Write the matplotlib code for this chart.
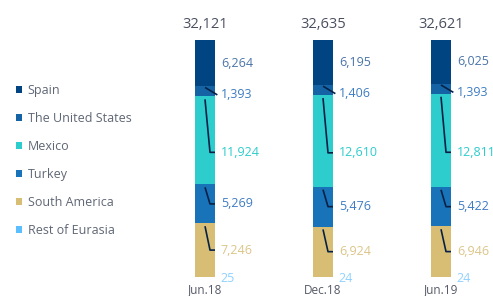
import matplotlib
matplotlib.use("Agg")
import matplotlib.pyplot as plt
from matplotlib.patches import Patch
import numpy as np

plt.rcParams['font.family'] = ['Open Sans', 'DejaVu Sans']

categories = ["Jun.18", "Dec.18", "Jun.19"]
series = ["Spain", "The United States", "Mexico", "Turkey", "South America", "Rest of Eurasia"]
spain = [6264, 6195, 6025]
united_states = [1393, 1406, 1393]
mexico = [11924, 12610, 12811]
turkey = [5269, 5476, 5422]
south_america = [7246, 6924, 6946]
rest_of_eurasia = [25, 24, 24]
totals = [32121, 32635, 32621]

colors = {"Spain": "#004481", "The United States": "#1464A5", "Mexico": "#2DCCCD",
          "Turkey": "#1973B8", "South America": "#D8BE75", "Rest of Eurasia": "#5BBEFF"}
label_colors = {"Spain": "#4a74a8", "The United States": "#3d7cc2", "Mexico": "#2DCCCD",
                "Turkey": "#3d7cc2", "South America": "#dcc589", "Rest of Eurasia": "#8fd2ff"}
leader_color = "#072146"

W, H = 493, 296
fig = plt.figure(figsize=(W / 100, H / 100), dpi=100)
x_left_px, x_right_px = 205 - 0.4 * 118, 441 + 0.44 * 118
ax = fig.add_axes([x_left_px / W, 1 - 277 / H, (x_right_px - x_left_px) / W, (277 - 40) / H])
ax.set_xlim(-0.4, 2.44)
ax.set_ylim(0, 100)
ax.axis('off')

data = {"Spain": spain, "The United States": united_states, "Mexico": mexico,
        "Turkey": turkey, "South America": south_america, "Rest of Eurasia": rest_of_eurasia}
stack_order = ["Rest of Eurasia", "South America", "Turkey", "Mexico", "The United States", "Spain"]

x = np.arange(len(categories))
width = 20 / 118
tot_arr = np.array([sum(data[s][i] for s in series) for i in range(len(categories))], dtype=float)

bottom = np.zeros(len(categories))
segs = {}
for s in stack_order:
    pct = np.array(data[s], dtype=float) / tot_arr * 100
    ax.bar(x, pct, width, bottom=bottom, color=colors[s], linewidth=0)
    segs[s] = (bottom.copy(), pct.copy())
    bottom += pct

fs_val = 9
for i in range(len(categories)):
    right = x[i] + width / 2
    cx = x[i]
    for s in series:
        b, h = segs[s]
        b, h = b[i], h[i]
        top = b + h
        txt = f"{data[s][i]:,}"
        if s == "Spain":
            ax.text(right + 0.05, b + h / 2, txt, color=label_colors[s], fontsize=fs_val,
                    va='center', ha='left', clip_on=False)
        elif s == "Rest of Eurasia":
            ax.text(right + 0.05, -0.5, txt, color=label_colors[s], fontsize=fs_val,
                    va='center', ha='left', clip_on=False)
        else:
            if s == "Mexico":
                ly = b + h / 2 - 5
            elif s == "The United States":
                ly = b + h / 2 - 1.5
            else:
                ly = b + h / 2
            if s == "The United States":
                xs = [cx, right + 0.02]
                ys = [top - 0.5, ly]
            else:
                xs = [cx, cx + width * 0.25, right]
                ys = [top - 1.2, ly, ly]
            ax.plot(xs, ys, color=leader_color, lw=1.2, solid_capstyle='butt', clip_on=False)
            ax.text(right + 0.05, ly, txt, color=label_colors[s], fontsize=fs_val,
                    va='center', ha='left', clip_on=False)
    ax.text(cx, 106.5, f"{totals[i]:,}", color="#4a5060", fontsize=10.5, ha='center',
            va='center', clip_on=False)
    ax.text(cx, -5.5, categories[i], color="#555a66", fontsize=8.5, ha='center',
            va='center', clip_on=False)

handles = [Patch(facecolor=colors[s], edgecolor='none') for s in series]
fig.legend(handles, series, loc='upper left', bbox_to_anchor=(16 / W, 1 - 84 / H),
           frameon=False, fontsize=9, labelcolor="#5f6675", handlelength=0.5,
           handleheight=0.5, handletextpad=0.45, labelspacing=1.2, borderaxespad=0,
           borderpad=0)

fig.savefig("out.png", dpi=100)
